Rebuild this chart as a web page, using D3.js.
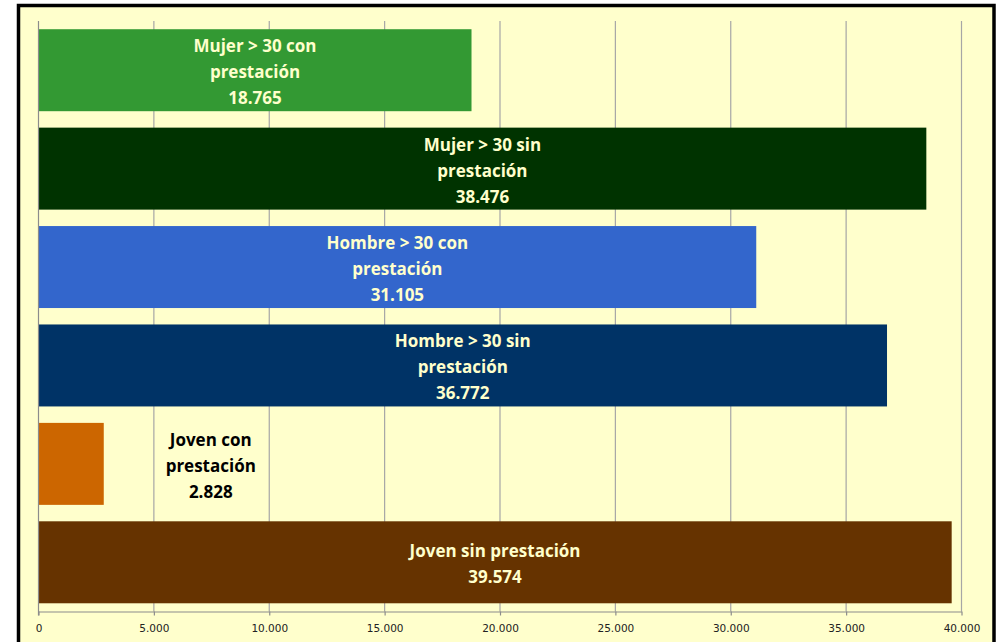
<!DOCTYPE html>
<html><head><meta charset="utf-8">
<script src="https://cdn.jsdelivr.net/npm/d3@7"></script>
<style>body{margin:0;background:#fff}svg{display:block}</style>
</head><body>
<svg id="c" width="998" height="642"></svg>
<script>
const categories = ["Mujer > 30 con prestación","Mujer > 30 sin prestación","Hombre > 30 con prestación","Hombre > 30 sin prestación","Joven con prestación","Joven sin prestación"];
const labelLines = [["Mujer > 30 con","prestación"],["Mujer > 30 sin","prestación"],["Hombre > 30 con","prestación"],["Hombre > 30 sin","prestación"],["Joven con","prestación"],["Joven sin prestación"]];
const values = [18765, 38476, 31105, 36772, 2828, 39574];
const colors = ["#339933","#003300","#3366CC","#003366","#CC6600","#663300"];
const tickValues = [0,5000,10000,15000,20000,25000,30000,35000,40000];
const fmt = v => d3.format(",")(v).replace(/,/g,".");

const svg = d3.select("#c");
svg.append("rect").attr("x",18.5).attr("y",5.5).attr("width",975.5).attr("height",660)
  .attr("fill","#FFFFCC").attr("stroke","#000").attr("stroke-width",3.5);

const m = {l:38.5, r:961.5, t:21, b:611.5};
const x = d3.scaleLinear().domain([0,40000]).range([m.l,m.r]);
const y = d3.scaleBand().domain(categories).range([m.t,m.b]).paddingInner(0.167).paddingOuter(0.0835);

// gridlines
svg.append("g").selectAll("line").data(tickValues.slice(1)).join("line")
  .attr("x1",d=>x(d)).attr("x2",d=>x(d)).attr("y1",m.t).attr("y2",m.b)
  .attr("stroke","#A6A6A6").attr("stroke-width",1.2);

// bars
svg.append("g").selectAll("rect").data(categories).join("rect")
  .attr("x",x(0)).attr("y",d=>y(d)).attr("width",(d,i)=>x(values[i])-x(0))
  .attr("height",y.bandwidth()).attr("fill",(d,i)=>colors[i]);

// axis
const ax = svg.append("g").attr("transform",`translate(0,${m.b})`)
  .call(d3.axisBottom(x).tickValues(tickValues).tickFormat(fmt).tickSize(4).tickSizeOuter(0));
ax.select(".domain").attr("stroke","#8C8C8C").attr("stroke-width",1.2);
ax.selectAll(".tick line").attr("stroke","#8C8C8C").attr("stroke-width",1.2);
ax.selectAll(".tick text").attr("fill","#222").attr("font-family","DejaVu Sans, sans-serif")
  .attr("font-size",10.5).attr("dy","1.25em");
// left axis line at 0
svg.append("line").attr("x1",x(0)).attr("x2",x(0)).attr("y1",m.t).attr("y2",m.b+4)
  .attr("stroke","#8C8C8C").attr("stroke-width",1.2);

// labels
const lg = svg.append("g").attr("font-family","'Open Sans', sans-serif").attr("font-weight","bold").attr("font-size",17).attr("text-anchor","middle");
categories.forEach((c,i)=>{
  const lines = labelLines[i].concat([fmt(values[i])]);
  const inside = (x(values[i])-x(0)) > 200;
  const cx = inside ? (x(0)+x(values[i]))/2 : x(values[i]) + 107;
  const cy = y(c) + y.bandwidth()/2 + 2;
  const lh = 26;
  const t = lg.append("text").attr("fill", inside ? "#FFFFCC" : "#000");
  lines.forEach((ln,k)=>{
    t.append("tspan").attr("x",cx).attr("y", cy + (k-(lines.length-1)/2)*lh).attr("dy","0.35em").text(ln);
  });
});
</script>
</body></html>
